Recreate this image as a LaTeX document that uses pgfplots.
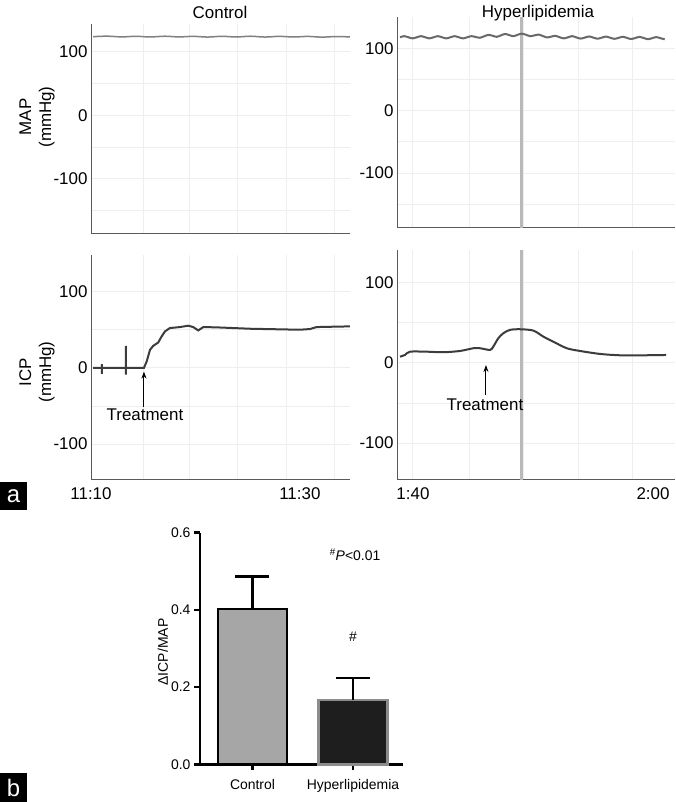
\documentclass[border=0pt]{standalone}
\usepackage{fontspec}
\setmainfont{Liberation Sans}
\usepackage{pgfplots}
\pgfplotsset{compat=1.18}
\usetikzlibrary{arrows.meta}
\definecolor{gridc}{RGB}{238,238,238}
\definecolor{axc}{RGB}{90,90,90}
\definecolor{mapc}{RGB}{128,128,128}
\definecolor{maph}{RGB}{105,105,105}
\definecolor{icpc}{RGB}{60,60,60}
\definecolor{vline}{RGB}{185,185,185}
\definecolor{ctrlc}{RGB}{166,166,166}
\definecolor{hypc}{RGB}{30,30,30}
\definecolor{hypedge}{RGB}{140,140,140}
\newcommand\fa{\fontsize{17}{20}\selectfont}
\newcommand\fb{\fontsize{14}{16}\selectfont}

\pgfplotsset{
  trace panel/.style={scale only axis, anchor=south west, clip=false,
    axis x line=bottom, axis y line=left,
    axis line style={-, draw=axc, line width=1bp},
    ytick={-100,0,100}, minor ytick={-150,-50,50},
    ymajorgrids=true, yminorgrids=true, xminorgrids=true, xmajorgrids=false,
    major grid style={draw=gridc, line width=1bp},
    minor grid style={draw=gridc, line width=1bp},
    major tick length=0pt, minor tick length=0pt,
    tick label style={font=\fa},
    xticklabel style={yshift=-4bp},
    /pgf/number format/assume math mode=true},
}

\begin{document}
\begin{tikzpicture}[x=1bp,y=1bp]
\useasboundingbox (0,0) rectangle (676,802);
\fill[white] (0,0) rectangle (676,802);

% control MAP
\begin{axis}[trace panel, at={(91bp,568bp)}, width=259bp, height=210bp,
  xmin=0, xmax=24.8, ymin=-187, ymax=144,
  xtick={0,20}, xticklabels={,}, minor xtick={4.98,9.47,14.07,18.76,23.35}]
\addplot[mapc, line width=1.5bp, smooth] coordinates {
(0.2,124)(1.57,124.8)(2.94,123.6)(4.31,124.6)(5.68,123.5)(7.05,124.7)(8.42,123.6)
(9.79,124.5)(11.16,123.4)(12.53,124.6)(13.9,123.5)(15.27,124.7)(16.64,123.4)
(18.01,124.5)(19.38,123.5)(20.75,124.4)(22.12,123.3)(23.49,124.2)(24.8,123.6)};
\end{axis}

% control ICP
\begin{axis}[trace panel, at={(91bp,322bp)}, width=259bp, height=225bp,
  xmin=0, xmax=24.8, ymin=-147, ymax=148,
  xtick={0,20}, xticklabels={11:10,11:30}, minor xtick={4.98,9.47,14.07,18.76,23.35}]
\addplot[icpc, line width=2bp] coordinates {
(0.2,0)(1.05,0)(1.05,5)(1.05,-8)(1.05,0)(3.35,0)(3.35,29)(3.35,-9)(3.35,0)
(5.07,0)(5.33,8.3)(5.65,23.7)(5.96,28.9)(6.44,33.3)(6.76,41.2)(7.08,47.8)
(7.56,52.2)(8.52,53.5)(9.31,55.3)(9.79,53.5)(10.27,49.1)(10.75,53.5)(12.03,53.1)
(15.22,51.3)(20.0,50)(20.96,50.9)(21.6,53.5)(24.78,54.4)};
\draw[-{Stealth[length=7bp,width=5bp]}, line width=1bp] (axis cs:5.07,-50.9) -- (axis cs:5.07,-4.9);
\node[font=\fa] at (axis cs:5.17,-61.8) {Treatment};
\end{axis}

% hyperlipidemia MAP
\begin{axis}[trace panel, at={(397bp,574bp)}, width=278bp, height=211bp,
  xmin=-1.33, xmax=21.83, ymin=-188, ymax=150,
  xtick={0,20}, xticklabels={,}, minor xtick={0,4.75,9.17,13.75,18.25}]
\addplot[vline, line width=3bp] coordinates {(9.08,-188)(9.08,150)};
\addplot[maph, line width=2bp, smooth] coordinates {
(-1.08,117.5)(-0.73,119.3)(-0.38,117.5)(-0.03,115.7)(0.32,117.5)(0.67,119.3)(1.02,117.5)
(1.37,115.7)(1.72,117.5)(2.07,119.3)(2.42,117.5)(2.77,115.7)(3.12,117.5)(3.47,119.3)
(3.82,117.5)(4.17,115.7)(4.52,117.5)(4.87,119.3)(5.22,118)(5.57,116.7)(5.92,119)
(6.27,121.3)(6.62,120)(6.97,118.2)(7.32,120.5)(7.67,122.8)(8.02,121)(8.37,119.2)
(8.72,121.5)(9.07,123.3)(9.42,121.5)(9.77,119.2)(10.12,120.5)(10.47,121.8)(10.82,119.5)
(11.17,117.2)(11.52,118.5)(11.87,119.8)(12.22,117.5)(12.57,115.7)(12.92,117.5)(13.27,119.3)
(13.62,117.2)(13.97,115.4)(14.32,117)(14.67,118.8)(15.02,117)(15.37,115.2)(15.72,116.8)
(16.07,118.6)(16.42,116.8)(16.77,115)(17.12,116.5)(17.47,118.3)(17.82,116.5)(18.17,114.7)
(18.52,116.3)(18.87,118.1)(19.22,116.3)(19.57,114.5)(19.92,116)(20.27,117.8)(20.62,116)
(20.97,114.2)};
\end{axis}

% hyperlipidemia ICP
\begin{axis}[trace panel, at={(397bp,322bp)}, width=278bp, height=230bp,
  xmin=-1.33, xmax=21.83, ymin=-146, ymax=141,
  xtick={0,20}, xticklabels={1:40,2:00}, minor xtick={0,4.75,9.17,13.75,18.25}]
\addplot[vline, line width=3bp] coordinates {(9.08,-146)(9.08,141)};
\addplot[icpc, line width=2bp, smooth] coordinates {
(-1.08,7.9)(-0.67,10)(-0.25,14.1)(1.14,14.1)(2.53,13.4)(3.92,15)(5.03,18.4)
(5.58,18.4)(6.42,16.3)(6.69,20.4)(7.11,30.9)(7.53,37.1)(8.08,41.3)(8.92,42.1)
(10.03,40.4)(10.86,32.9)(11.69,26.6)(12.81,18.4)(13.92,15)(15.58,11.3)(17.25,9.6)
(19.19,9.6)(21.08,10)};
\draw[-{Stealth[length=7bp,width=5bp]}, line width=1bp] (axis cs:6.08,-40) -- (axis cs:6.08,-2.5);
\node[font=\fa] at (axis cs:6.0,-52.5) {Treatment};
\end{axis}

\node[font=\fa] at (220,790) {Control};
\node[font=\fa] at (538,789) {Hyperlipidemia};
\node[font=\fa, rotate=90, align=center] at (37,685) {MAP\\(mmHg)};
\node[font=\fa, rotate=90, align=center] at (37,430) {ICP\\(mmHg)};

% panel b
\begin{axis}[scale only axis, anchor=south west, at={(200bp,37.7bp)}, width=203bp, height=231.6bp,
  clip=false, xmin=-0.522, xmax=1.497, ymin=0, ymax=0.6,
  axis x line=bottom, axis y line=left,
  axis line style={-, line width=2.5bp, black},
  xtick={0,1}, xticklabels={Control,Hyperlipidemia},
  ytick={0,0.2,0.4,0.6}, tick align=outside, major tick length=6bp,
  tick style={line width=2.5bp, black},
  yticklabel style={/pgf/number format/fixed, /pgf/number format/zerofill,
    /pgf/number format/precision=1},
  xticklabel style={yshift=-6bp},
  tick label style={font=\fb},
  /pgf/number format/assume math mode=true]
\addplot[ybar, bar shift=0pt, bar width=0.687, fill=ctrlc, draw=black, line width=2.5bp]
  coordinates {(0,0.402)};
\addplot[ybar, bar shift=0pt, bar width=0.687, fill=hypc, draw=hypedge, line width=2.5bp]
  coordinates {(1,0.167)};
\addplot[black, line width=2.5bp] coordinates {(0,0.402)(0,0.486)};
\addplot[black, line width=2.5bp] coordinates {(-0.169,0.486)(0.169,0.486)};
\addplot[black, line width=2.5bp] coordinates {(1,0.167)(1,0.224)};
\addplot[black, line width=2.5bp] coordinates {(0.831,0.224)(1.169,0.224)};
\node[font=\fb] at (axis cs:1.02,0.542) {\textsuperscript{\#}\textit{P}<0.01};
\node[font=\fb] at (axis cs:1.0,0.33) {\#};
\end{axis}
\node[font=\fb, rotate=90] at (163,150) {ΔICP/MAP};

\fill[black] (0,292) rectangle (27,320);
\node[white, font=\fontsize{24}{24}\selectfont] at (13.5,306) {a};
\fill[black] (0,0) rectangle (27,29);
\node[white, font=\fontsize{24}{24}\selectfont] at (13.5,14.5) {b};
\end{tikzpicture}
\end{document}
